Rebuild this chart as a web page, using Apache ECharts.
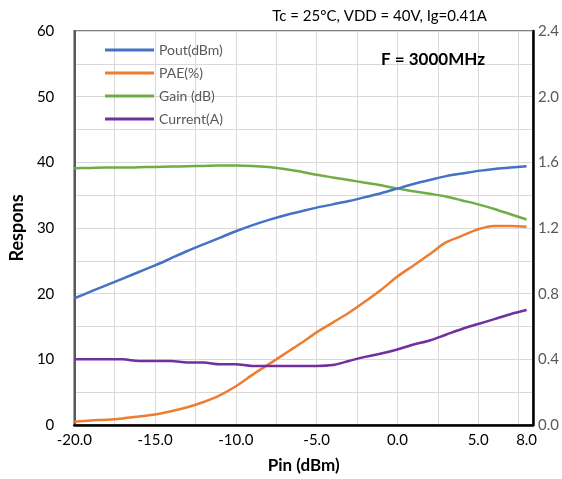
<!DOCTYPE html>
<html>
<head>
<meta charset="utf-8">
<title>Pout / PAE / Gain / Current vs Pin</title>
<script src="https://cdn.jsdelivr.net/npm/echarts@6/dist/echarts.min.js"></script>
<style>
  html, body { margin: 0; padding: 0; background: #fff; }
  #chart { width: 562px; height: 479px; }
</style>
</head>
<body>
<div id="chart"></div>
<script>
// input power sweep (dBm)
const pin = [-20, -19, -18, -17, -16, -15, -14, -13, -12, -11, -10, -9, -8, -7, -6,
  -5, -4, -3, -2, -1, 0, 1, 2, 3, 4, 5, 6, 7, 8];
// output power (dBm)
const pout = [19.3, 20.3, 21.3, 22.3, 23.3, 24.3, 25.4, 26.5, 27.5, 28.5, 29.5, 30.4, 31.2, 31.9, 32.5,
  33.1, 33.6, 34.1, 34.7, 35.3, 36.0, 36.7, 37.3, 37.9, 38.3, 38.7, 39.0, 39.2, 39.4];
// power added efficiency (%)
const pae = [0.5, 0.7, 0.8, 1.0, 1.3, 1.6, 2.1, 2.7, 3.5, 4.5, 5.9, 7.6, 9.2, 10.8, 12.4,
  14.1, 15.6, 17.1, 18.8, 20.6, 22.6, 24.3, 26.0, 27.8, 28.8, 29.8, 30.3, 30.3, 30.2];
// gain (dB)
const gain = [39.1, 39.15, 39.2, 39.2, 39.25, 39.3, 39.35, 39.4, 39.45, 39.5, 39.5, 39.45, 39.3, 39.0, 38.6,
  38.1, 37.7, 37.3, 36.9, 36.5, 36.0, 35.6, 35.2, 34.8, 34.2, 33.6, 32.9, 32.1, 31.3];
// drain current (A), right axis
const current = [0.40, 0.40, 0.40, 0.40, 0.39, 0.39, 0.39, 0.38, 0.38, 0.37, 0.37, 0.36, 0.36, 0.36, 0.36,
  0.36, 0.365, 0.39, 0.415, 0.435, 0.46, 0.49, 0.515, 0.55, 0.585, 0.615, 0.645, 0.675, 0.70];

// x tick labels
const xLabels = [-20, -15, -10, -5, 0, 5, 8];

const font = "Lato, 'Open Sans', sans-serif";
const pair = (ys) => pin.map((x, i) => [x, ys[i]]);

const chart = echarts.init(document.getElementById("chart"));

// one line series
function lineSeries(name, data, color, yAxisIndex) {
  return {
    name: name,
    type: "line",
    yAxisIndex: yAxisIndex,
    data: pair(data),
    smooth: 0.3,
    showSymbol: false,
    lineStyle: { width: 2.5, color: color },
    itemStyle: { color: color },
  };
}

chart.setOption({
  animation: false,
  textStyle: { fontFamily: font },
  title: [
    {
      text: "Tc = 25\u00B0C, VDD = 40V, Ig=0.41A",
      right: 70,
      top: 4,
      textStyle: { fontSize: 15, fontWeight: "normal", color: "#000", fontFamily: font },
    },
    {
      text: "F = 3000MHz",
      right: 72,
      top: 46,
      textStyle: { fontSize: 17, fontWeight: "bold", color: "#000", fontFamily: font },
    },
  ],
  legend: {
    orient: "vertical",
    left: 100,
    top: 37,
    icon: "rect",
    itemWidth: 49,
    itemHeight: 3,
    itemGap: 7,
    textStyle: { fontSize: 14, color: "#595959", lineHeight: 16, fontFamily: font },
    data: ["Pout(dBm)", "PAE(%)", "Gain (dB)", "Current(A)"],
  },
  grid: {
    left: 67,
    right: 28,
    top: 31,
    bottom: 53,
    show: true,
    borderColor: "#808080",
    borderWidth: 2,
  },
  xAxis: {
    type: "value",
    min: -20,
    max: 8.4,
    interval: 2.5,
    name: "Pin (dBm)",
    nameLocation: "middle",
    nameGap: 32,
    nameTextStyle: { fontSize: 17, fontWeight: "bold", color: "#000", fontFamily: font },
    axisLine: { onZero: false, lineStyle: { color: "#000", width: 2.5 } },
    axisTick: { show: false },
    axisLabel: {
      customValues: xLabels,
      fontSize: 15,
      color: "#000",
      margin: 8,
      formatter: (v) => v.toFixed(1),
    },
    splitLine: { show: true, lineStyle: { color: "#d9d9d9", width: 1 } },
  },
  yAxis: [
    {
      type: "value",
      min: 0,
      max: 60,
      interval: 5,
      name: "Respons",
      nameLocation: "middle",
      nameGap: 38,
      nameTextStyle: { fontSize: 18, fontWeight: "bold", color: "#000", fontFamily: font },
      axisLine: { show: true, onZero: false, lineStyle: { color: "#595959", width: 2 } },
      axisTick: { show: false },
      axisLabel: {
        fontSize: 15,
        color: "#000",
        margin: 20,
        formatter: (v) => (v % 10 === 0 ? String(v) : ""),
      },
      splitLine: { show: true, lineStyle: { color: "#d9d9d9", width: 1 } },
    },
    {
      type: "value",
      position: "right",
      min: 0,
      max: 2.4,
      interval: 0.2,
      axisLine: { show: true, onZero: false, lineStyle: { color: "#000", width: 2.5 } },
      axisTick: { show: false },
      axisLabel: {
        fontSize: 15,
        color: "#595959",
        margin: 5,
        formatter: (v) => (Math.round(v * 10) % 4 === 0 ? v.toFixed(1) : ""),
      },
      splitLine: { show: false },
    },
  ],
  series: [
    lineSeries("Gain (dB)", gain, "#70AD47", 0),
    lineSeries("Pout(dBm)", pout, "#4472C4", 0),
    lineSeries("PAE(%)", pae, "#ED7D31", 0),
    lineSeries("Current(A)", current, "#7030A0", 1),
  ],
});
</script>
</body>
</html>
